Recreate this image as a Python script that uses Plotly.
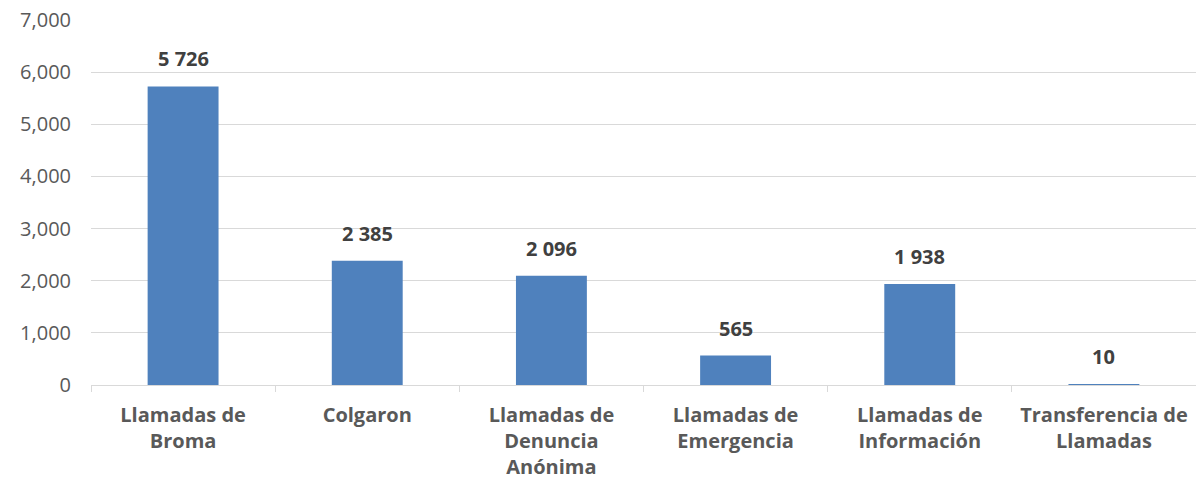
import plotly.graph_objects as go

categories = ["Llamadas de<br>Broma", "Colgaron", "Llamadas de<br>Denuncia<br>Anónima",
              "Llamadas de<br>Emergencia", "Llamadas de<br>Información", "Transferencia de<br>Llamadas"]
values = [5726, 2385, 2096, 565, 1938, 10]
labels = [f"{v:,}".replace(",", " ") for v in values]

fig = go.Figure()
fig.add_trace(go.Bar(x=categories, y=values, marker=dict(color="#4f81bd", line=dict(width=0)),
                     hoverinfo="x+y"))

for c, v, t in zip(categories, values, labels):
    fig.add_annotation(x=c, y=v, text=f"<b>{t}</b>", showarrow=False, yanchor="bottom", yshift=12,
                       font=dict(family="Open Sans", size=20, color="#404040"))

fig.update_layout(
    width=1196, height=487,
    margin=dict(l=91, r=0, t=20, b=102),
    plot_bgcolor="white", paper_bgcolor="white",
    bargap=0.615, showlegend=False,
    font=dict(family="Open Sans", size=20, color="#595959"),
)
fig.update_yaxes(range=[0, 7000], dtick=1000, tickformat=",", gridcolor="#d9d9d9", gridwidth=1,
                 zeroline=False, ticklabelstandoff=19, showline=False, automargin=False,
                 tickfont=dict(family="Open Sans", size=20, color="#595959"))
fig.update_xaxes(showline=True, linecolor="#d9d9d9", linewidth=1, ticks="outside", tickcolor="#d9d9d9",
                 ticklen=6, tickson="boundaries", automargin=False, ticklabelstandoff=12,
                 tickfont=dict(family="Open Sans", size=20, color="#595959"),
                 tickprefix="<b>", ticksuffix="</b>")

fig.write_html("out.html", config={"displayModeBar": False},
               post_script="document.body.style.margin='0';")
